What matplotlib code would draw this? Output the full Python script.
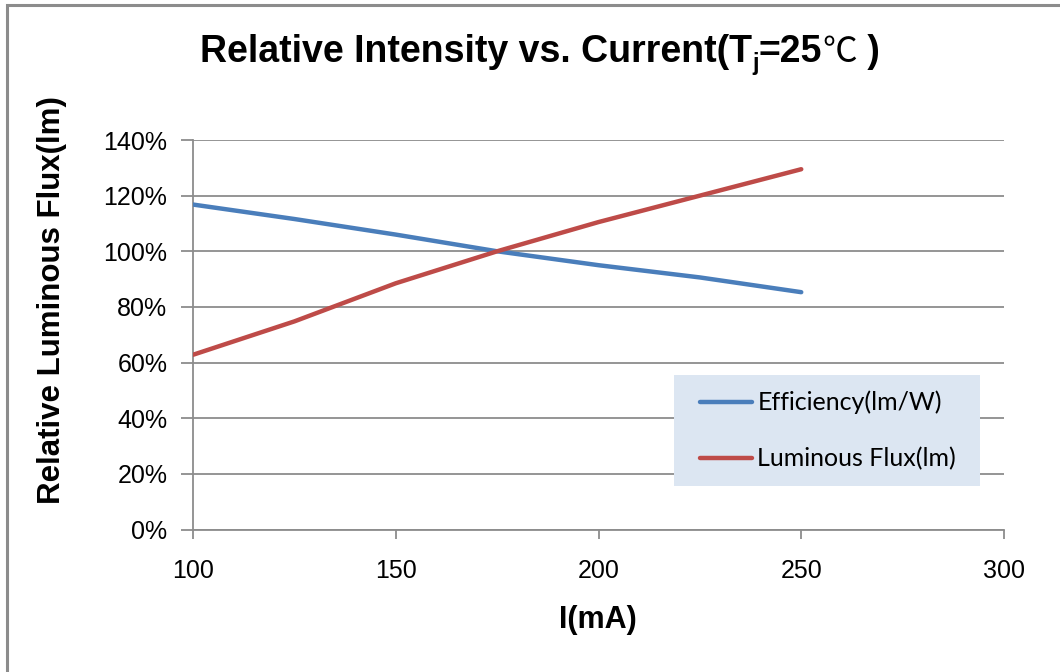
import matplotlib
matplotlib.use("Agg")
import matplotlib.pyplot as plt
from matplotlib.patches import Rectangle
from matplotlib.ticker import PercentFormatter

# ---------------------------------------------------------------------------
# Data
# ---------------------------------------------------------------------------
current_ma = [100, 125, 150, 175, 200, 225, 250]
efficiency = [116.8, 111.6, 106.0, 100.0, 95.0, 90.6, 85.3]
luminous_flux = [62.8, 74.8, 88.5, 100.0, 110.5, 120.0, 129.5]

x_ticks = [100, 150, 200, 250, 300]
y_ticks = [0, 20, 40, 60, 80, 100, 120, 140]

BLUE = "#4a7ebb"
RED = "#be4b48"
GRID = "#8c8c8c"
LEGEND_BG = "#dce6f2"

W, H = 1060, 672
plt.rcParams["font.family"] = ["Liberation Sans", "DejaVu Sans", "Noto Sans CJK SC"]

fig = plt.figure(figsize=(W / 100, H / 100), dpi=100, facecolor="white")
ax = fig.add_axes([193 / W, 1 - 529.5 / H, 811 / W, 389.5 / H])

ax.plot(current_ma, efficiency, color=BLUE, lw=3.2, solid_capstyle="round",
        label="Efficiency(lm/W)", zorder=3)
ax.plot(current_ma, luminous_flux, color=RED, lw=3.2, solid_capstyle="round",
        label="Luminous Flux(lm)", zorder=3)

ax.set_xlim(100, 300)
ax.set_ylim(0, 140)
ax.set_xticks(x_ticks)
ax.set_yticks(y_ticks)
ax.yaxis.set_major_formatter(PercentFormatter(decimals=0))
ax.grid(axis="y", color=GRID, lw=1.3)
ax.set_axisbelow(True)

for side in ("top", "right"):
    ax.spines[side].set_visible(False)
for side in ("left", "bottom"):
    ax.spines[side].set_color(GRID)
    ax.spines[side].set_linewidth(1.3)

ax.tick_params(axis="y", direction="out", length=9, width=1.3, color=GRID,
               labelsize=18, pad=9.5)
ax.tick_params(axis="x", direction="out", length=6.5, width=1.3, color=GRID,
               labelsize=18, pad=15)

# axis titles
fig.text(598 / W, 1 - 620 / H, "I(mA)", fontsize=22, fontweight="bold",
         ha="center", va="center")
fig.text(52 / W, 1 - 300 / H, "Relative Luminous Flux(lm)", fontsize=22.5,
         fontweight="bold", rotation=90, ha="center", va="center")

# title built from pieces: subscript j and a CJK degree-celsius sign
title_parts = [
    ("Relative Intensity vs. Current(T", 27, "bold", ["Liberation Sans"], 0),
    ("j", 17, "bold", ["Liberation Sans"], -8),
    ("=25", 27, "bold", ["Liberation Sans"], 0),
    ("\u2103", 25, "normal", ["Noto Sans CJK SC", "DejaVu Sans"], 0),
    (" )", 27, "bold", ["Liberation Sans"], 0),
]
renderer = fig.canvas.get_renderer()
title_base = 62
texts = []
widths = []
for s, size, weight, fam, dy in title_parts:
    t = fig.text(0, 1 - (title_base - dy) / H, s, fontsize=size,
                 fontweight=weight, family=fam, va="baseline", ha="left")
    texts.append(t)
    widths.append(t.get_window_extent(renderer).width)
x0 = 540 - sum(widths) / 2
for t, w in zip(texts, widths):
    t.set_x(x0 / W)
    x0 += w

# legend with light blue background box
ax.add_patch(Rectangle((0.593, 0.112), 0.377, 0.285, transform=ax.transAxes,
                       facecolor=LEGEND_BG, edgecolor="none", zorder=4))
leg = ax.legend(loc="center left", bbox_to_anchor=(0.625, 0.254),
                frameon=False, prop={"family": "Lato", "size": 18},
                handlelength=2.1, handletextpad=0.2, labelspacing=1.3,
                borderpad=0, borderaxespad=0)
leg.set_zorder(5)

# outer chart border (left and top only visible in reference)
fig.add_artist(Rectangle((7 / W, -0.1), 1.2, 1 - 5 / H + 0.1,
                         transform=fig.transFigure, fill=False,
                         edgecolor="#8c8c8c", lw=2.2))

fig.savefig("out.png", dpi=100, facecolor="white")
plt.close(fig)
